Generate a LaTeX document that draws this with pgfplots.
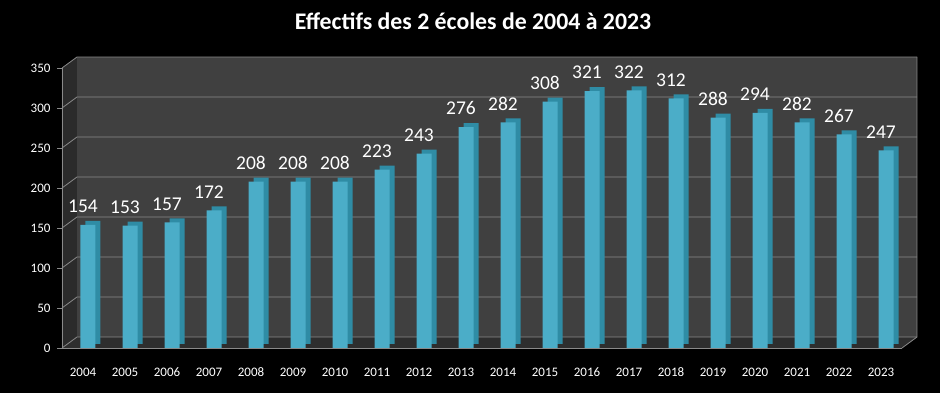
\documentclass[border=0pt]{standalone}
\usepackage{pgfplots}
\pgfplotsset{compat=1.18}
\usepackage{fontspec}
\setmainfont{Carlito}
\definecolor{barfront}{HTML}{4BADC8}
\definecolor{barside}{HTML}{2F8CA5}
\definecolor{wallback}{HTML}{404040}
\definecolor{wallside}{HTML}{2B2B2B}
\definecolor{floorc}{HTML}{2E2E2E}
\definecolor{gridc}{HTML}{8A8A8A}
\begin{document}
\begin{tikzpicture}[x=1pt,y=1pt]
\fill[black] (0,0) rectangle (940,393);
\useasboundingbox (0,0) rectangle (940,393);
\begin{axis}[
  at={(62pt,45pt)}, anchor=south west,
  scale only axis, width=840pt, height=280pt,
  xmin=-0.5, xmax=19.5, ymin=0, ymax=350,
  clip=false,
  axis on top,
  axis x line*=bottom, axis y line*=left,
  axis line style={gridc, line width=0.8pt},
  /pgf/number format/assume math mode=true,
  ytick={0,50,...,350},
  xtick={0,...,19},
  xticklabels={2004,2005,2006,2007,2008,2009,2010,2011,2012,2013,2014,2015,2016,2017,2018,2019,2020,2021,2022,2023},
  minor xtick={-0.5,0.5,...,19.5},
  x tick style={draw=none},
  minor x tick style={gridc, line width=0.8pt},
  y tick style={gridc, line width=0.8pt},
  tick align=outside,
  major tick length=5pt, minor tick length=6pt,
  ticklabel style={white, font=\fontsize{13}{13}\selectfont},
  xticklabel style={anchor=base, yshift=-24pt},
  yticklabel style={xshift=-3pt},
]
% walls
\fill[wallside] (axis cs:-0.5,0) -- (axis cs:-0.5,350) -- ([xshift=15pt,yshift=11pt]axis cs:-0.5,350) -- ([xshift=15pt,yshift=11pt]axis cs:-0.5,0) -- cycle;
\fill[floorc] (axis cs:-0.5,0) -- (axis cs:19.5,0) -- ([xshift=15pt,yshift=11pt]axis cs:19.5,0) -- ([xshift=15pt,yshift=11pt]axis cs:-0.5,0) -- cycle;
\fill[wallback] ([xshift=15pt,yshift=11pt]axis cs:-0.5,0) rectangle ([xshift=15pt,yshift=11pt]axis cs:19.5,350);
\pgfplotsinvokeforeach{0,50,100,150,200,250,300,350}{
  \draw[gridc, line width=0.8pt] (axis cs:-0.5,#1) -- ([xshift=15pt,yshift=11pt]axis cs:-0.5,#1) -- ([xshift=15pt,yshift=11pt]axis cs:19.5,#1);
}
\draw[gridc, line width=0.8pt] (axis cs:19.5,0) -- ([xshift=15pt,yshift=11pt]axis cs:19.5,0) -- ([xshift=15pt,yshift=11pt]axis cs:19.5,350);
% bars: depth (side/top) then front
\addplot[ybar, bar width=15pt, bar shift=5pt, fill=barside, draw=none, xshift=5pt, yshift=4pt]
coordinates {(0,154) (1,153) (2,157) (3,172) (4,208) (5,208) (6,208) (7,223) (8,243) (9,276) (10,282) (11,308) (12,321) (13,322) (14,312) (15,288) (16,294) (17,282) (18,267) (19,247)};
\addplot[ybar, bar width=15pt, bar shift=5pt, fill=barfront, draw=none,
  nodes near coords,
  every node near coord/.append style={white, font=\fontsize{19.5}{19.5}\selectfont, anchor=south, inner sep=0pt, yshift=12pt}]
coordinates {(0,154) (1,153) (2,157) (3,172) (4,208) (5,208) (6,208) (7,223) (8,243) (9,276) (10,282) (11,308) (12,321) (13,322) (14,312) (15,288) (16,294) (17,282) (18,267) (19,247)};
\end{axis}
\node[white, font=\fontsize{23.8}{23.8}\selectfont\bfseries, anchor=base] at (473,363) {Effectifs des 2 écoles de 2004 à 2023};
\end{tikzpicture}
\end{document}
